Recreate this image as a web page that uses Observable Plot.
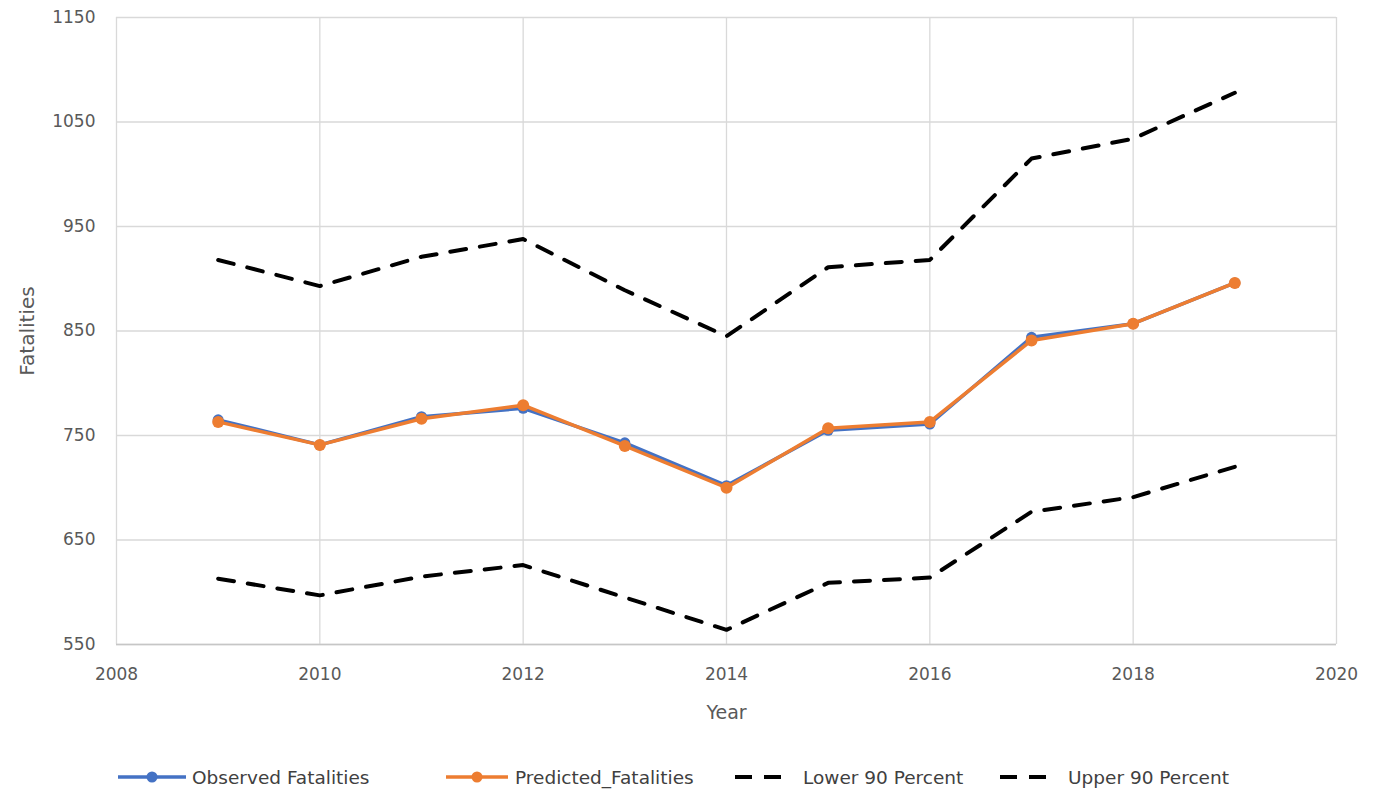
<!DOCTYPE html>
<html><head><meta charset="utf-8">
<script src="https://cdn.jsdelivr.net/npm/d3@7"></script>
<script src="https://cdn.jsdelivr.net/npm/@observablehq/plot@0.6"></script>
<style>
body{margin:0;background:#fff;font-family:"DejaVu Sans",sans-serif;}
#wrap{position:relative;width:1376px;height:793px;overflow:hidden;}
#legend{position:absolute;top:765px;left:0;width:1376px;height:24px;}
.item{position:absolute;top:0;height:24px;display:flex;align-items:center;font-size:18.5px;color:#404040;white-space:nowrap;}
.sw{position:absolute;top:0;}
</style></head><body><div id="wrap"><div id="chart"></div><div id="legend"></div></div>
<script>
const years = [2009, 2010, 2011, 2012, 2013, 2014, 2015, 2016, 2017, 2018, 2019];
const observed = [765, 741, 768, 776, 743, 702, 755, 761, 844, 857, 896];
const predicted = [763, 741, 766, 779, 740, 700, 757, 763, 841, 857, 896];
const lower90 = [613, 597, 615, 626, 595, 564, 609, 614, 677, 691, 720];
const upper90 = [918, 893, 921, 938, 889, 845, 911, 918, 1015, 1034, 1078];
const xTicks = [2008, 2010, 2012, 2014, 2016, 2018, 2020];
const yTicks = [550, 650, 750, 850, 950, 1050, 1150];
const seriesNames = ["Observed Fatalities", "Predicted_Fatalities", "Lower 90 Percent", "Upper 90 Percent"];
const xTitle = "Year";
const yTitle = "Fatalities";

const rows = years.map((year, i) => ({year, observed: observed[i], predicted: predicted[i], lower: lower90[i], upper: upper90[i]}));
const font = '"DejaVu Sans", sans-serif';
const gridStyle = {stroke: "#d9d9d9", strokeOpacity: 1, strokeWidth: 1.3};

const chart = Plot.plot({
  width: 1376, height: 745,
  marginLeft: 116, marginRight: 40, marginTop: 17, marginBottom: 101,
  style: {fontFamily: font, fontSize: "17px", color: "#595959", background: "#fff", overflow: "visible"},
  x: {domain: [2008, 2020]},
  y: {domain: [550, 1150]},
  marks: [
    Plot.gridX(xTicks, gridStyle),
    Plot.gridY(yTicks, gridStyle),
    Plot.ruleY([550], {stroke: "#c6c6c6", strokeWidth: 1.3}),
    Plot.axisX(xTicks, {tickSize: 0, tickPadding: 23, tickFormat: d => String(d), label: null, fontSize: 17, fill: "#595959"}),
    Plot.axisY(yTicks, {tickSize: 0, tickPadding: 21, tickFormat: d => String(d), label: null, fontSize: 17, fill: "#595959"}),
    Plot.text([xTitle], {text: d => d, frameAnchor: "bottom", dy: 68, lineAnchor: "middle", textAnchor: "middle", fontSize: 19, fill: "#595959"}),
    Plot.text([yTitle], {text: d => d, frameAnchor: "left", dx: -89, rotate: -90, textAnchor: "middle", lineAnchor: "middle", fontSize: 20, fill: "#595959"}),
    Plot.line(rows, {x: "year", y: "observed", stroke: "#4472C4", strokeWidth: 3.5}),
    Plot.dot(rows, {x: "year", y: "observed", fill: "#4472C4", r: 5.5}),
    Plot.line(rows, {x: "year", y: "predicted", stroke: "#ED7D31", strokeWidth: 3.5}),
    Plot.dot(rows, {x: "year", y: "predicted", fill: "#ED7D31", r: 6}),
    Plot.line(rows, {x: "year", y: "lower", stroke: "#000", strokeWidth: 4, strokeDasharray: "16,14"}),
    Plot.line(rows, {x: "year", y: "upper", stroke: "#000", strokeWidth: 4, strokeDasharray: "16,14"})
  ]
});
document.getElementById("chart").appendChild(chart);

// Legend
const legend = document.getElementById("legend");
const swatches = [
  {left: 118, w: 68, type: "marker", color: "#4472C4", textLeft: 192},
  {left: 446, w: 62, type: "marker", color: "#ED7D31", textLeft: 515},
  {left: 735, w: 46, type: "dash", color: "#000", textLeft: 803},
  {left: 1000, w: 46, type: "dash", color: "#000", textLeft: 1068}
];
swatches.forEach((s, i) => {
  const svg = d3.create("svg").attr("class", "sw").attr("width", s.w).attr("height", 24).style("left", s.left + "px");
  if (s.type === "marker") {
    svg.append("line").attr("x1", 0).attr("x2", s.w).attr("y1", 12).attr("y2", 12).attr("stroke", s.color).attr("stroke-width", 3.5);
    svg.append("circle").attr("cx", s.w / 2).attr("cy", 12).attr("r", 5.5).attr("fill", s.color);
  } else {
    svg.append("line").attr("x1", 0).attr("x2", s.w).attr("y1", 12).attr("y2", 12).attr("stroke", s.color).attr("stroke-width", 4).attr("stroke-dasharray", "17,12");
  }
  legend.appendChild(svg.node());
  const t = document.createElement("div");
  t.className = "item";
  t.style.left = s.textLeft + "px";
  t.textContent = seriesNames[i];
  legend.appendChild(t);
});
</script>
</body></html>
